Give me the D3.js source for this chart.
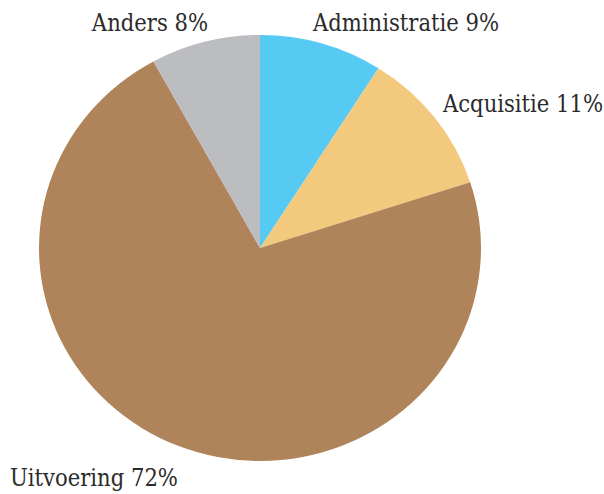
<!DOCTYPE html>
<html>
<head>
<meta charset="utf-8">
<script src="https://cdn.jsdelivr.net/npm/d3@7"></script>
<style>
  html, body { margin: 0; padding: 0; background: #fff; }
  text { font-family: "DejaVu Serif Condensed", "DejaVu Serif", serif; font-stretch: condensed; fill: #2b2b2b; }
</style>
</head>
<body>
<svg id="chart"></svg>
<script>
// data
var categories = ["Administratie", "Acquisitie", "Uitvoering", "Anders"];
var shares = [9, 11, 72, 8];
var colors = ["#57caf4", "#f3c97e", "#b0845a", "#bcbdc1"];

var width = 604;
var height = 494;

// the pie is drawn slightly wider than tall
var cx = 260, cy = 248;
var rx = 221, ry = 213;

// label spots, relative to the centre
var labelAt = [
  { dx: 53,  dy: -217, anchor: "start" },
  { dx: 183, dy: -136, anchor: "start" },
  { dx: -250, dy: 238, anchor: "start" },
  { dx: -52, dy: -217, anchor: "end" }
];

var svg = d3.select("#chart")
    .attr("width", width)
    .attr("height", height);

var pie = d3.pie()
    .sort(null)
    .value(function (d) { return d; });

var arcs = pie(shares);

var arc = d3.arc()
    .innerRadius(0)
    .outerRadius(1);

var slices = svg.append("g")
    .attr("transform", "translate(" + cx + "," + cy + ") scale(" + rx + "," + ry + ")");

slices.selectAll("path")
    .data(arcs)
    .enter()
    .append("path")
    .attr("d", arc)
    .attr("fill", function (d, i) { return colors[i]; });

var labels = svg.append("g")
    .attr("transform", "translate(" + cx + "," + cy + ")");

labels.selectAll("text")
    .data(arcs)
    .enter()
    .append("text")
    .attr("x", function (d, i) { return labelAt[i].dx; })
    .attr("y", function (d, i) { return labelAt[i].dy; })
    .attr("text-anchor", function (d, i) { return labelAt[i].anchor; })
    .style("font-size", "23.5px")
    .text(function (d, i) { return categories[i] + " " + shares[i] + "%"; });
</script>
</body>
</html>
